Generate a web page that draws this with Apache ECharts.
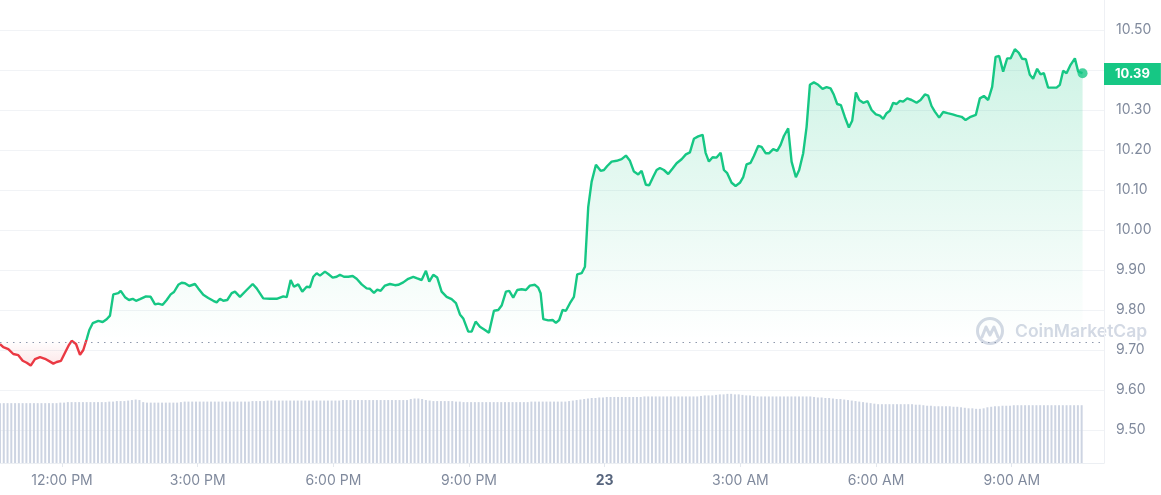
<!DOCTYPE html>
<html>
<head>
<meta charset="utf-8">
<script src="https://cdn.jsdelivr.net/npm/echarts@6/dist/echarts.min.js"></script>
<style>
  html, body { margin: 0; padding: 0; background: #ffffff; }
  #chart { width: 1161px; height: 495px; }
</style>
</head>
<body>
<div id="chart"></div>
<script>
// ---- Data (times in hours since midnight of day 22) ----
const times = [10.629,10.702,10.813,10.923,11.034,11.131,11.220,11.308,11.403,11.514,11.624,11.735,11.808,11.883,11.978,12.066,12.155,12.214,12.310,12.398,12.471,12.546,12.604,12.679,12.803,12.900,12.988,13.061,13.134,13.245,13.298,13.393,13.481,13.563,13.636,13.724,13.857,13.961,14.056,14.129,14.226,14.315,14.403,14.476,14.571,14.646,14.719,14.814,14.940,15.013,15.124,15.234,15.345,15.420,15.493,15.566,15.654,15.752,15.825,15.935,16.083,16.216,16.304,16.450,16.599,16.747,16.893,16.968,17.056,17.129,17.224,17.313,17.410,17.483,17.556,17.631,17.704,17.814,17.887,17.985,18.073,18.146,18.234,18.330,18.427,18.515,18.626,18.736,18.809,18.898,18.971,19.046,19.141,19.251,19.362,19.435,19.546,19.656,19.767,19.855,19.952,20.047,20.120,20.209,20.297,20.394,20.505,20.615,20.711,20.799,20.872,20.983,21.058,21.146,21.241,21.352,21.440,21.551,21.646,21.721,21.816,21.889,21.977,22.066,22.163,22.258,22.346,22.457,22.530,22.583,22.641,22.751,22.848,22.921,22.994,23.069,23.142,23.231,23.319,23.392,23.490,23.563,23.636,23.711,23.806,23.910,23.983,24.056,24.153,24.264,24.374,24.469,24.558,24.646,24.741,24.816,24.911,24.984,25.073,25.148,25.221,25.309,25.404,25.501,25.590,25.700,25.795,25.884,25.972,26.067,26.165,26.231,26.304,26.386,26.474,26.563,26.636,26.709,26.806,26.894,26.989,27.062,27.137,27.226,27.299,27.394,27.469,27.558,27.637,27.726,27.814,27.889,27.962,28.057,28.132,28.227,28.300,28.389,28.464,28.537,28.625,28.720,28.817,28.906,28.994,29.067,29.140,29.222,29.311,29.399,29.472,29.554,29.627,29.716,29.813,29.901,29.996,30.085,30.158,30.233,30.306,30.379,30.454,30.527,30.600,30.688,30.786,30.896,30.984,31.079,31.152,31.227,31.300,31.395,31.484,31.581,31.692,31.780,31.891,31.979,32.074,32.207,32.295,32.384,32.479,32.567,32.643,32.722,32.810,32.899,32.974,33.069,33.157,33.230,33.312,33.400,33.473,33.562,33.637,33.710,33.805,33.916,33.991,34.064,34.137,34.212,34.301,34.396,34.469,34.566];

const prices = [9.715,9.707,9.702,9.690,9.687,9.673,9.668,9.661,9.677,9.682,9.678,9.671,9.666,9.670,9.673,9.693,9.713,9.723,9.715,9.688,9.700,9.727,9.750,9.767,9.773,9.770,9.777,9.786,9.839,9.842,9.848,9.832,9.825,9.828,9.823,9.827,9.834,9.833,9.814,9.816,9.813,9.825,9.839,9.845,9.863,9.868,9.867,9.860,9.865,9.854,9.838,9.830,9.823,9.819,9.828,9.823,9.825,9.842,9.846,9.833,9.850,9.865,9.854,9.829,9.828,9.828,9.834,9.832,9.875,9.858,9.864,9.846,9.858,9.857,9.883,9.892,9.886,9.896,9.890,9.881,9.883,9.888,9.883,9.883,9.885,9.878,9.864,9.854,9.853,9.843,9.851,9.848,9.861,9.865,9.862,9.863,9.869,9.878,9.883,9.879,9.875,9.898,9.871,9.888,9.881,9.846,9.833,9.827,9.817,9.789,9.779,9.746,9.746,9.771,9.758,9.750,9.743,9.798,9.800,9.811,9.846,9.848,9.831,9.850,9.852,9.850,9.861,9.863,9.856,9.842,9.777,9.774,9.775,9.768,9.775,9.800,9.798,9.817,9.833,9.889,9.892,9.908,10.058,10.121,10.163,10.148,10.150,10.160,10.171,10.173,10.177,10.186,10.173,10.146,10.139,10.148,10.113,10.112,10.133,10.150,10.155,10.150,10.140,10.154,10.167,10.177,10.189,10.194,10.228,10.234,10.238,10.193,10.171,10.182,10.181,10.193,10.150,10.142,10.118,10.110,10.118,10.132,10.164,10.168,10.185,10.210,10.208,10.192,10.192,10.202,10.198,10.213,10.235,10.254,10.171,10.132,10.150,10.192,10.258,10.363,10.369,10.363,10.353,10.357,10.354,10.338,10.315,10.312,10.282,10.256,10.273,10.344,10.325,10.318,10.322,10.300,10.289,10.286,10.278,10.292,10.298,10.318,10.315,10.323,10.321,10.329,10.325,10.318,10.325,10.339,10.336,10.310,10.296,10.281,10.295,10.292,10.289,10.286,10.283,10.275,10.282,10.288,10.329,10.335,10.325,10.358,10.433,10.435,10.396,10.429,10.429,10.452,10.443,10.428,10.427,10.388,10.378,10.403,10.389,10.392,10.356,10.356,10.356,10.363,10.398,10.392,10.413,10.429,10.396,10.392];

// Volume (relative units), one bar per 5 minutes starting at volStartHour
const volStartHour = 10.629;
const volStepMinutes = 5;
const volumes = [
  58,58,58,58,58,58,58,58,58,58,58,58,58,58,58,58,58.5,58.5,
  59,59,59,59,59,59,59,59,59,59,59,59.5,59.5,
  60,60,60,60.5,61,61.5,61,
  59,58.5,58.5,58.5,58.5,58.5,58.5,58.5,58.5,58.5,59,
  59.5,59.5,59.5,59.5,59.5,59.5,59.5,59.5,59.5,59.5,59.5,59.5,59.5,59.5,59.5,59.5,59.5,59.5,60,60,60,60,
  60.5,60.5,60.5,60.5,60.5,60.5,60.5,60.5,60.5,60.5,60.5,60.5,60.5,60.5,60.5,60.5,60.5,60.5,60.5,60.5,
  61,61,61,61,61,61,61,61,61,61,61,61,61,61,61,61,61,61,
  62,62.5,62.5,62,
  61,60.5,60,60,60,60,60,60,
  59.5,59.5,59,59,59,59,59,59,59,59,59,59,59,59,59,59,59,59,59,59,
  59.5,59.5,59.5,59.5,59.5,59.5,59.5,59.5,59.5,59.5,
  60,60.5,61,61.5,62,
  62.5,63,63,63.5,63.5,
  64,64,64,64,64,64,64,64,64,64,
  64.5,64.5,64.5,64.5,64.5,64.5,64.5,64.5,64.5,64.5,64.5,64.5,64.5,64.5,64.5,
  65,65.5,65.5,65.5,66,
  66.5,66.5,67,67,66.5,66.5,
  66,65.5,65.5,65,
  64.5,64.5,64.5,64.5,64.5,64.5,64.5,64.5,64.5,64.5,64.5,64.5,64.5,64.5,64.5,
  64,63.5,63.5,63,63,
  62.5,62,62,61.5,61,
  60.5,60,59.5,59,58.5,
  58,57.5,57,57,57,57,57,57,57,57,57,57,56.5,56.5,56,
  55.5,55.5,55,55,55,55,55,54.5,54.5,54,
  53.5,53,53,52.5,52.5,53,54,
  54.5,55,55,55.5,55.5,55.5,
  56,56,56,56,56,56,56,56,56,56,56,56,56,56,56,56,56,56,56
];

const baselinePrice = 9.725;
const yTicks = [9.5, 9.6, 9.7, 9.8, 9.9, 10.0, 10.1, 10.2, 10.3, 10.4, 10.5];
const xTickValues = [12, 15, 18, 21, 24, 27, 30, 33];
const xTickLabels = ['12:00 PM', '3:00 PM', '6:00 PM', '9:00 PM', '23', '3:00 AM', '6:00 AM', '9:00 AM'];
const dayBoundary = 24;

// ---- Build ----
const n = Math.min(times.length, prices.length);
const priceData = [];
for (let i = 0; i < n; i++) priceData.push([times[i], prices[i]]);
const volData = volumes.map((v, i) => [volStartHour + i * volStepMinutes / 60, v]);
const last = priceData[priceData.length - 1];
// the price tag hides the tick label it overlaps
const yLabelValues = yTicks.filter(v => Math.abs(v - last[1]) > 0.04);

const xMin = times[0];
const xMax = 35.04;

const pMax = Math.max(...prices.slice(0, n), baselinePrice);
const pMin = Math.min(...prices.slice(0, n), baselinePrice);
const frac = (pMax - baselinePrice) / (pMax - pMin);

const GREEN = '#16c784';
const RED = '#ea3943';
const FONT = 'Inter, "Noto Sans", sans-serif';

const chart = echarts.init(document.getElementById('chart'), null, { renderer: 'canvas' });

chart.setOption({
  animation: false,
  backgroundColor: '#ffffff',
  textStyle: { fontFamily: FONT },
  grid: [
    { left: 0, right: 57, top: 0, bottom: 32 },
    { left: 0, right: 57, top: 366, bottom: 32 }
  ],
  xAxis: [
    { type: 'value', gridIndex: 0, min: xMin, max: xMax, show: false },
    {
      type: 'value', gridIndex: 1, min: xMin, max: xMax,
      axisLine: { show: true, lineStyle: { color: '#eceff3', width: 1 } },
      axisTick: { show: true, customValues: xTickValues, length: 4, lineStyle: { color: '#e3e7ed' } },
      splitLine: { show: false },
      axisLabel: {
        customValues: xTickValues,
        margin: 11,
        color: '#808a9d',
        fontSize: 14,
        fontFamily: FONT,
        formatter: function (v) {
          const i = xTickValues.findIndex(t => Math.abs(t - v) < 1e-6);
          const s = i >= 0 ? xTickLabels[i] : '';
          return Math.abs(v - dayBoundary) < 1e-6 ? '{b|' + s + '}' : s;
        },
        rich: { b: { fontWeight: 700, color: '#58667e', fontSize: 14, fontFamily: FONT } }
      }
    }
  ],
  yAxis: [
    {
      type: 'value', gridIndex: 0, position: 'right', min: 9.4175, max: 10.575,
      axisLine: { show: true, lineStyle: { color: '#eef0f4' } },
      axisTick: { show: false, customValues: yTicks },
      splitLine: { show: true, lineStyle: { color: '#f1f3f6', width: 1 } },
      axisLabel: {
        customValues: yLabelValues,
        margin: 12,
        color: '#808a9d',
        fontSize: 14,
        fontFamily: FONT,
        formatter: v => Number(v).toFixed(2)
      }
    },
    { type: 'value', gridIndex: 1, min: 0, max: 94, show: false }
  ],
  visualMap: {
    type: 'piecewise', show: false, seriesIndex: 0, dimension: 1,
    pieces: [
      { gt: 0, lte: baselinePrice, color: RED },
      { gt: baselinePrice, lte: 100, color: GREEN }
    ],
    outOfRange: { color: GREEN }
  },
  graphic: [
    {
      type: 'group', left: 975, top: 316, silent: true, z: 1,
      children: [
        { type: 'circle', shape: { cx: 15, cy: 14, r: 12.5 }, style: { fill: 'none', stroke: '#d3d9e4', lineWidth: 3 } },
        { type: 'polyline', shape: { points: [[7, 20], [11, 10], [15, 18], [19, 10], [23, 20]] }, style: { fill: 'none', stroke: '#d3d9e4', lineWidth: 3, lineJoin: 'round', lineCap: 'round' } },
        { type: 'text', x: 40, y: 15, style: { text: 'CoinMarketCap', fill: '#d3d9e4', font: '600 17.5px Inter, "Noto Sans", sans-serif', verticalAlign: 'middle', align: 'left' } }
      ]
    }
  ],
  series: [
    {
      name: 'price', type: 'line', xAxisIndex: 0, yAxisIndex: 0,
      data: priceData, showSymbol: false, symbol: 'none', z: 4,
      lineStyle: { width: 2.4 }
    },
    {
      name: 'area', type: 'line', xAxisIndex: 0, yAxisIndex: 0,
      data: priceData, showSymbol: false, symbol: 'none', silent: true, z: 2,
      lineStyle: { width: 0, opacity: 0 },
      areaStyle: {
        origin: baselinePrice,
        color: new echarts.graphic.LinearGradient(0, 0, 0, 1, [
          { offset: 0, color: 'rgba(22,199,132,0.30)' },
          { offset: frac, color: 'rgba(22,199,132,0.0)' },
          { offset: frac, color: 'rgba(234,57,67,0.0)' },
          { offset: 1, color: 'rgba(234,57,67,0.18)' }
        ])
      },
      markLine: {
        silent: true, symbol: 'none', animation: false,
        label: { show: false },
        lineStyle: { color: '#8f99ad', type: [1.5, 5], width: 1.2 },
        data: [{ yAxis: baselinePrice }]
      }
    },
    {
      name: 'last', type: 'scatter', xAxisIndex: 0, yAxisIndex: 0,
      data: [last], symbolSize: 10, z: 6, silent: true,
      itemStyle: { color: GREEN },
      markLine: {
        silent: true, symbol: 'none', animation: false,
        lineStyle: { color: 'rgba(255,255,255,0)', width: 1, opacity: 1 },
        label: {
          show: true, position: 'end', distance: 0,
          formatter: () => last[1].toFixed(2),
          backgroundColor: GREEN, color: '#ffffff', opacity: 1,
          fontSize: 13, fontWeight: 700, fontFamily: FONT,
          padding: [5, 11, 4, 11]
        },
        data: [{ yAxis: last[1] }]
      }
    },
    {
      name: 'volume', type: 'bar', xAxisIndex: 1, yAxisIndex: 1,
      data: volData, barWidth: 2, silent: true,
      itemStyle: { color: '#cdd4e2' }
    }
  ]
});
</script>
</body>
</html>
